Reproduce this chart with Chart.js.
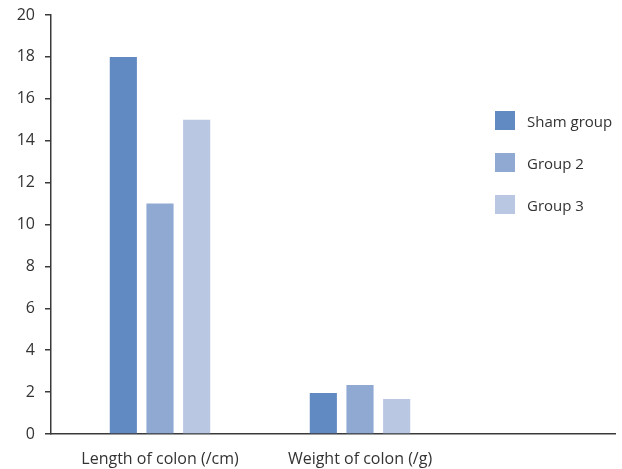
<!DOCTYPE html>
<html>
<head>
<meta charset="utf-8">
<script src="https://cdn.jsdelivr.net/npm/chart.js@4.4.0/dist/chart.umd.min.js"></script>
<style>
    html, body { margin: 0; padding: 0; background: #fff; }
    #wrap { position: relative; width: 622px; height: 469px; }
    #legend { position: absolute; left: 495px; top: 111px; font-family: 'Open Sans', sans-serif; font-size: 15px; color: #333; }
    #legend .item { display: flex; align-items: center; height: 19px; margin-bottom: 23px; }
    #legend .box { width: 20px; height: 19px; margin-right: 12px; }
</style>
</head>
<body>
<div id="wrap">
    <canvas id="chart" width="622" height="469"></canvas>
    <div id="legend"></div>
</div>
<script>
'use strict';

const categories = ['Length of colon (/cm)', 'Weight of colon (/g)'];
const seriesNames = ['Sham group', 'Group 2', 'Group 3'];
const shamValues = [18, 1.96];
const group2Values = [11, 2.34];
const group3Values = [15, 1.67];
const yTicks = [0, 2, 4, 6, 8, 10, 12, 14, 16, 18, 20];

const colors = ['#6189c2', '#8fa9d3', '#b9c7e3'];
const axisColor = '#3a3a3a';
const textColor = '#333333';

function toPoints(values) {
    return values.map((v, i) => ({ x: i + 1, y: v }));
}

const datasets = [shamValues, group2Values, group3Values].map((vals, i) => ({
    label: seriesNames[i],
    data: toPoints(vals),
    backgroundColor: colors[i],
    borderWidth: 0,
    categoryPercentage: 0.55,
    barPercentage: 0.74
}));

const ctx = document.getElementById('chart').getContext('2d');
const chart = new Chart(ctx, {
    type: 'bar',
    data: { datasets },
    options: {
        responsive: false,
        animation: false,
        layout: { padding: { top: 15, right: 7, left: 0, bottom: 0 } },
        plugins: { legend: { display: false }, tooltip: { enabled: false } },
        scales: {
            x: {
                type: 'linear',
                offset: false,
                min: 0.455,
                max: 3.275,
                afterBuildTicks: (s) => { s.ticks = categories.map((c, i) => ({ value: i + 1 })); },
                afterFit: (s) => { s.height = 35; s.paddingLeft = 0; s.paddingRight = 0; },
                ticks: {
                    callback: (v) => categories[v - 1] || '',
                    color: textColor,
                    font: { family: 'Open Sans', size: 16 },
                    padding: 16,
                    maxRotation: 0,
                    autoSkip: false
                },
                grid: { display: false, drawTicks: false },
                border: { display: true, color: axisColor, width: 1.5 }
            },
            y: {
                min: 0,
                max: 20,
                afterBuildTicks: (s) => { s.ticks = yTicks.map(v => ({ value: v })); },
                afterFit: (s) => { s.width = 51; s.paddingTop = 0; s.paddingBottom = 0; },
                ticks: {
                    color: textColor,
                    font: { family: 'Open Sans', size: 16 },
                    padding: 10
                },
                grid: { drawOnChartArea: false, drawTicks: true, tickLength: 6, color: axisColor, lineWidth: 1.5 },
                border: { display: true, color: axisColor, width: 1.5 }
            }
        }
    }
});

const legendNode = document.getElementById('legend');
legendNode.innerHTML = chart.data.datasets.map(ds =>
    `<div class="item"><span class="box" style="background:${ds.backgroundColor}"></span>${ds.label}</div>`
).join('');
</script>
</body>
</html>
